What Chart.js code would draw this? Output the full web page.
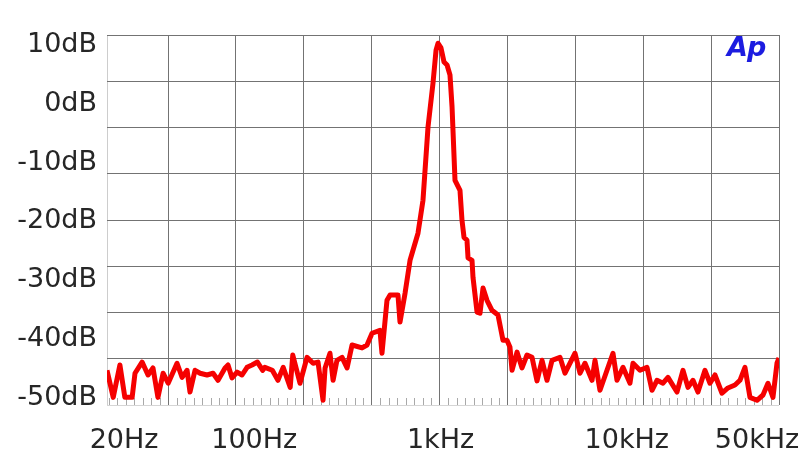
<!DOCTYPE html>
<html><head><meta charset="utf-8">
<script src="https://cdn.jsdelivr.net/npm/chart.js@4/dist/chart.umd.min.js"></script>
<style>
html,body{margin:0;padding:0;background:#fff;}
#wrap{position:relative;width:805px;height:455px;overflow:hidden;}
#logo{position:absolute;left:727px;top:33px;font:italic bold 27px "DejaVu Sans";color:#1c1ce0;line-height:27px;letter-spacing:-1px;}
</style></head><body>
<div id="wrap"><canvas id="c" width="805" height="455"></canvas><div id="logo">Ap</div></div>
<script>
// Frequency (Hz) and level (dB)
const freqHz = [16.2,17.5,19.0,20.2,22.1,22.9,25.0,26.9,28.6,30.4,32.4,34.5,38.5,41.0,43.6,45.2,48.1,51.2,55.8,60.1,63.9,69.7,72.3,76.0,80.9,86.0,91.5,97.3,104,111,114,125,134,143,156,161,176,192,207,220,234,240,255,265,278,296,315,335,379,403,429,473,485,516,536,591,606,645,686,757,805,857,911,946,970,1006,1044,1084,1124,1153,1196,1272,1304,1337,1387,1405,1476,1494,1570,1629,1691,1776,1889,2035,2164,2274,2360,2420,2574,2738,2912,3098,3296,3506,3730,3968,4378,4658,5272,5608,5964,6504,6750,7178,7828,8428,8860,9538,10400,10796,11772,12836,13654,14522,15640,16636,18590,20020,21300,22660,24100,26280,27960,29740,32440,34920,38080,40500,43080,45840,49980,53840,57260,60900,64000,65620];
const levelDb = [-45.3,-49.9,-44.4,-49.9,-49.9,-45.8,-43.9,-46.1,-44.9,-49.9,-45.8,-47.5,-44.1,-46.5,-45.3,-49.0,-45.3,-45.8,-46.1,-45.8,-47.0,-44.9,-44.4,-46.6,-45.6,-46.1,-44.8,-44.4,-43.9,-45.3,-44.8,-45.3,-47.0,-44.8,-48.2,-42.7,-47.5,-43.1,-44.1,-43.9,-50.4,-44.9,-42.4,-47.0,-43.6,-43.1,-44.9,-41.0,-41.5,-41.0,-39.0,-38.5,-42.4,-33.4,-32.5,-32.5,-37.1,-32.2,-26.6,-22.0,-16.4,-3.9,3.5,9.1,10.3,9.5,7.1,6.6,4.9,-0.5,-13.0,-14.7,-19.8,-22.7,-23.2,-26.2,-26.6,-29.5,-35.4,-35.6,-31.3,-33.4,-35.1,-35.9,-40.2,-40.2,-41.4,-45.3,-42.2,-44.9,-42.7,-43.1,-47.1,-43.6,-47.0,-43.6,-43.1,-45.8,-42.4,-45.8,-44.1,-47.0,-43.6,-48.7,-45.3,-42.4,-47.0,-44.8,-47.5,-44.1,-45.3,-44.8,-48.7,-47.0,-47.5,-46.5,-49.0,-45.3,-48.2,-47.0,-49.0,-45.3,-47.5,-46.1,-49.2,-48.3,-47.8,-47.0,-44.8,-49.9,-50.4,-49.5,-47.5,-49.9,-44.1,-43.2];
const xTickValues = [20, 100, 1000, 10000, 50000];
const xTickLabels = ['20Hz', '100Hz', '1kHz', '10kHz', '50kHz'];
const yTickValues = [10, 0, -10, -20, -30, -40, -50];
const yTickLabels = ['10dB', '0dB', '-10dB', '-20dB', '-30dB', '-40dB', '-50dB'];

Chart.defaults.font.family = '"DejaVu Sans", Verdana, sans-serif';

const minorTicks = {
  id: 'minorTicks',
  beforeDatasetsDraw(chart) {
    const s = chart.scales.gx, a = chart.chartArea, c = chart.ctx;
    c.save();
    c.strokeStyle = '#a9a9a9';
    c.lineWidth = 1;
    c.beginPath();
    for (let k = Math.ceil(s.min * 8); k <= Math.floor(s.max * 8); k++) {
      if (k % 8 === 0) continue;
      const px = Math.round(s.getPixelForValue(k / 8)) + 0.5;
      c.moveTo(px, a.bottom);
      c.lineTo(px, a.bottom - 7);
    }
    c.stroke();
    c.restore();
  }
};

function gridTicks(s) {
  const t = [{value: s.min}];
  for (let v = Math.ceil(s.min + 1e-9); v <= s.max + 1e-9; v++) t.push({value: v});
  s.ticks = t;
}

new Chart(document.getElementById('c'), {
  type: 'line',
  data: {
    datasets: [{
      data: freqHz.map((f, i) => ({x: f, y: levelDb[i]})),
      xAxisID: 'x', yAxisID: 'y',
      borderColor: '#f50000',
      borderWidth: 5,
      borderJoinStyle: 'round',
      pointRadius: 0,
      tension: 0,
      fill: false
    }]
  },
  options: {
    responsive: false,
    animation: false,
    devicePixelRatio: 1,
    layout: {padding: {top: 35, right: 26, bottom: 0, left: 0}},
    plugins: {legend: {display: false}, tooltip: {enabled: false}},
    scales: {
      x: {
        type: 'logarithmic', position: 'bottom', min: 16.2, max: 65620,
        afterBuildTicks: s => { s.ticks = xTickValues.map(v => ({value: v})); },
        ticks: {
          callback: v => xTickLabels[xTickValues.indexOf(v)],
          font: {size: 27}, color: '#262626', padding: 20, maxRotation: 0, minRotation: 0, autoSkip: false
        },
        grid: {display: false, drawTicks: false},
        border: {display: false},
        afterFit: s => { s.height = 50; s.paddingLeft = 0; s.paddingRight = 0; }
      },
      y: {
        type: 'linear', position: 'left', min: -51.2, max: 11.7,
        afterBuildTicks: s => { s.ticks = yTickValues.map(v => ({value: v})); },
        ticks: {
          callback: v => yTickLabels[yTickValues.indexOf(v)],
          font: {size: 27}, color: '#262626', padding: 10, autoSkip: false
        },
        grid: {display: false, drawTicks: false},
        border: {display: false},
        afterFit: s => { s.width = 107; s.paddingTop = 0; s.paddingBottom = 0; }
      },
      gx: {
        type: 'linear', position: 'bottom', min: -0.9, max: 9,
        afterBuildTicks: gridTicks,
        ticks: {display: false},
        grid: {drawTicks: false, lineWidth: 1, color: c => (c.tick && c.tick.value < 0) ? '#cdcdcd' : '#737373'},
        border: {display: false}
      },
      gy: {
        type: 'linear', position: 'left', min: 0, max: 8,
        afterBuildTicks: gridTicks,
        ticks: {display: false},
        grid: {drawTicks: false, lineWidth: 1, color: c => (c.tick && c.tick.value === 0) ? '#d5d5d5' : '#737373'},
        border: {display: false}
      }
    }
  },
  plugins: [minorTicks]
});
</script>
</body></html>
